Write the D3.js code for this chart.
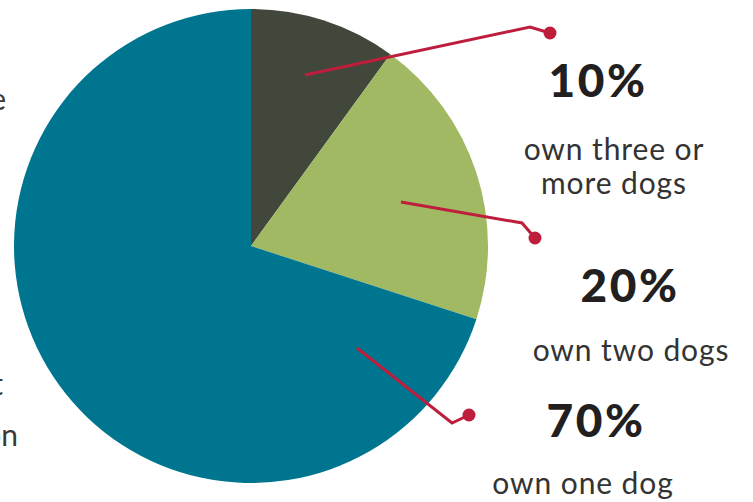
<!DOCTYPE html>
<html>
<head>
<meta charset="utf-8">
<script src="https://cdn.jsdelivr.net/npm/d3@7"></script>
<style>
  html, body { margin: 0; padding: 0; background: #fff; }
  svg { display: block; }
</style>
</head>
<body>
<svg id="chart" width="753" height="502"></svg>
<script>
const categories = ["three or more dogs", "two dogs", "one dog"];
const values = [10, 20, 70];
const percentLabels = ["10%", "20%", "70%"];
const descriptions = [["own three or", "more dogs"], ["own two dogs"], ["own one dog"]];
const colors = ["#41473b", "#a0b962", "#007590"];

const svg = d3.select("#chart");
const cx = 251, cy = 246, r = 237;

const pie = d3.pie().sort(null).value(d => d);
const arcs = pie(values);
const arc = d3.arc().innerRadius(0).outerRadius(r);

const g = svg.append("g").attr("transform", `translate(${cx},${cy})`);
g.selectAll("path.slice").data(arcs).enter().append("path")
  .attr("class", "slice")
  .attr("d", arc)
  .attr("fill", (d, i) => colors[i]);

// cut-off text fragments at the left edge (as in the reference)
const frag = svg.append("g").attr("fill", "#3a3a3a")
  .attr("font-family", "Lato, 'Open Sans', sans-serif").attr("font-weight", 400).attr("font-size", 30);
frag.append("text").attr("x", 6).attr("y", 110).attr("text-anchor", "end").text("ne");
frag.append("text").attr("x", 3).attr("y", 395).attr("text-anchor", "end").text("st");
frag.append("text").attr("x", 18).attr("y", 446).attr("text-anchor", "end").text("ion");

// leader lines: inner point, elbow, dot
const leaders = [
  { inner: [305, 75], elbow: [530, 27], dot: [550, 33] },
  { inner: [401, 202], elbow: [522, 223], dot: [535, 238] },
  { inner: [357, 348], elbow: [452, 423], dot: [469, 415] }
];
const lineColor = "#be1e3c";
const lg = svg.append("g");
leaders.forEach(l => {
  lg.append("path")
    .attr("d", d3.line()([l.inner, l.elbow, l.dot]))
    .attr("fill", "none").attr("stroke", lineColor).attr("stroke-width", 3);
  lg.append("circle").attr("cx", l.dot[0]).attr("cy", l.dot[1]).attr("r", 6.5).attr("fill", lineColor);
});

// labels
const labelPos = [
  { pct: [598, 97], desc: [614, 160], lh: 34 },
  { pct: [630, 302], desc: [631, 361], lh: 34 },
  { pct: [596, 437], desc: [583, 494], lh: 34 }
];
const tg = svg.append("g");
values.forEach((v, i) => {
  const p = labelPos[i];
  tg.append("text").attr("x", p.pct[0]).attr("y", p.pct[1])
    .attr("text-anchor", "middle")
    .attr("font-family", "Lato, 'Open Sans', sans-serif")
    .attr("font-weight", 900).attr("font-size", 46)
    .attr("letter-spacing", 2.5)
    .attr("fill", "#231f20").text(percentLabels[i]);
  descriptions[i].forEach((line, j) => {
    tg.append("text").attr("x", p.desc[0]).attr("y", p.desc[1] + j * p.lh)
      .attr("text-anchor", "middle")
      .attr("font-family", "Lato, 'Open Sans', sans-serif")
      .attr("font-weight", 400).attr("font-size", 30)
      .attr("letter-spacing", 0.9)
      .attr("fill", "#333333").text(line);
  });
});
</script>
</body>
</html>
